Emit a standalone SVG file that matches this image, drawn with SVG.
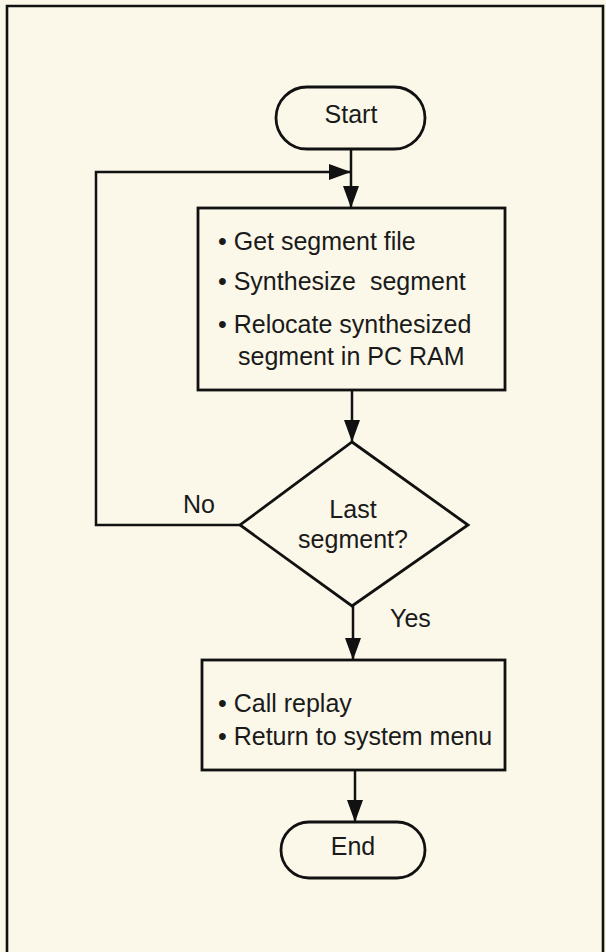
<svg xmlns="http://www.w3.org/2000/svg" width="606" height="952" viewBox="0 0 606 952">
<defs>
<marker id="arr" markerUnits="userSpaceOnUse" markerWidth="22" markerHeight="16" refX="22" refY="8" orient="auto">
<path d="M0,0 L22,8 L0,16 Z" fill="#111"/>
</marker>
<style>
.shape{fill:none;stroke:#111;stroke-width:2.8}
.conn{fill:none;stroke:#111;stroke-width:2.5}
text{font-family:"Liberation Sans",Arial,Helvetica,sans-serif;font-size:25px;fill:#1a1a1a}
.c{text-anchor:middle}
</style>
</defs>
<rect x="0" y="0" width="606" height="952" fill="#fbf8e9"/>
<path d="M7,952 V6 H603 V952" fill="none" stroke="#111" stroke-width="2.6"/>
<g id="connectors">
<path class="conn" d="M351,149 V208" marker-end="url(#arr)"/>
<path class="conn" d="M240,525 H96 V172 H351" marker-end="url(#arr)"/>
<path class="conn" d="M352,390 V442" marker-end="url(#arr)"/>
<path class="conn" d="M353,606 V660" marker-end="url(#arr)"/>
<path class="conn" d="M355,770 V822" marker-end="url(#arr)"/>
<text x="183" y="513">No</text>
<text x="390" y="627">Yes</text>
</g>
<g id="start">
<rect class="shape" x="276" y="87" width="149" height="62" rx="31" ry="31"/>
<text class="c" x="351" y="123">Start</text>
</g>
<g id="process1">
<rect class="shape" x="198" y="208" width="307" height="182"/>
<text x="218" y="250">• Get segment file</text>
<text x="218" y="290" xml:space="preserve">• Synthesize  segment</text>
<text x="218" y="333">• Relocate synthesized</text>
<text x="238" y="365">segment in PC RAM</text>
</g>
<g id="decision">
<polygon class="shape" points="352,442 468,525 352,606 240,525"/>
<text class="c" x="353" y="518">Last</text>
<text class="c" x="353" y="548">segment?</text>
</g>
<g id="process2">
<rect class="shape" x="202" y="660" width="303" height="110"/>
<text x="218" y="712">• Call replay</text>
<text x="218" y="745">• Return to system menu</text>
</g>
<g id="end">
<rect class="shape" x="281" y="822" width="144" height="56" rx="28" ry="28"/>
<text class="c" x="353" y="855">End</text>
</g>
</svg>
